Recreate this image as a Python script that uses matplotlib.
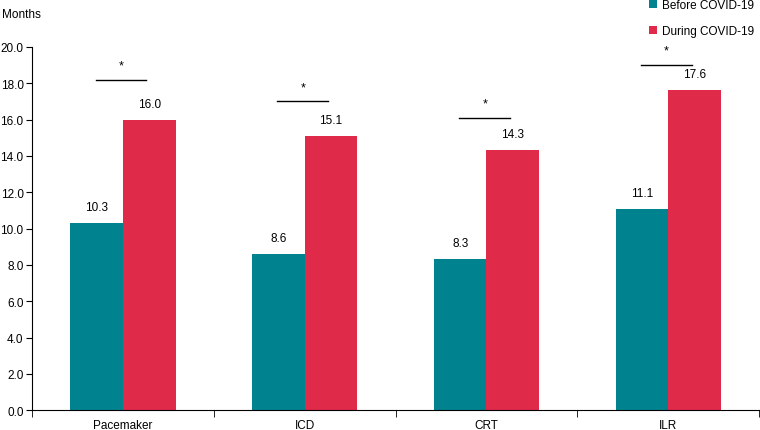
import matplotlib.pyplot as plt
import numpy as np

categories = ["Pacemaker", "ICD", "CRT", "ILR"]
before = [10.3, 8.6, 8.3, 11.1]
during = [16.0, 15.1, 14.3, 17.6]
sig_line_y = [18.2, 17.0, 16.1, 19.0]

teal = "#00838f"
red = "#e02a4a"
fs = 8.5

plt.rcParams['font.family'] = ['Liberation Sans', 'DejaVu Sans']
fig = plt.figure(figsize=(7.6, 4.31), dpi=100)
ax = fig.add_axes([0.042, 0.046, 0.957, 0.843])

x = np.arange(len(categories))
w = 0.29
ax.bar(x - w / 2, before, w, color=teal, label="Before COVID-19")
ax.bar(x + w / 2, during, w, color=red, label="During COVID-19")

for xi, v in zip(x, before):
    ax.text(xi - w / 2, v + 0.55, f"{v:.1f}", ha="center", va="bottom", fontsize=fs)
for xi, v in zip(x, during):
    ax.text(xi + w / 2, v + 0.55, f"{v:.1f}", ha="center", va="bottom", fontsize=fs)

# significance marks
for xi, y in zip(x, sig_line_y):
    ax.plot([xi - 0.15, xi + 0.13], [y, y], color="black", lw=1)
    ax.text(xi - 0.01, y + 0.45, "*", ha="center", va="bottom", fontsize=fs + 0.5)

ax.set_xlim(-0.5, 3.5)
ax.set_ylim(0, 20)
ax.set_yticks(np.arange(0, 20.1, 2))
ax.set_yticklabels([f"{t:.1f}" for t in np.arange(0, 20.1, 2)], fontsize=fs)
ax.set_xticks(x)
ax.set_xticklabels(categories, fontsize=fs)
ax.set_xticks(np.arange(-0.5, 3.6, 1), minor=True)
ax.tick_params(axis="x", which="major", length=0, pad=6)
ax.tick_params(axis="x", which="minor", length=5, direction="out")
ax.tick_params(axis="y", length=4, direction="out", pad=2)
for s in ["top", "right"]:
    ax.spines[s].set_visible(False)

fig.text(0.003, 0.965, "Months", fontsize=fs, ha="left", va="center")
fig.legend(loc="upper right", bbox_to_anchor=(0.992, 1.0), frameon=False,
           fontsize=fs, handlelength=0.7, handleheight=0.7, labelspacing=1.2,
           handletextpad=0.4, borderaxespad=0.0, borderpad=0.0)

fig.savefig("out.png")
